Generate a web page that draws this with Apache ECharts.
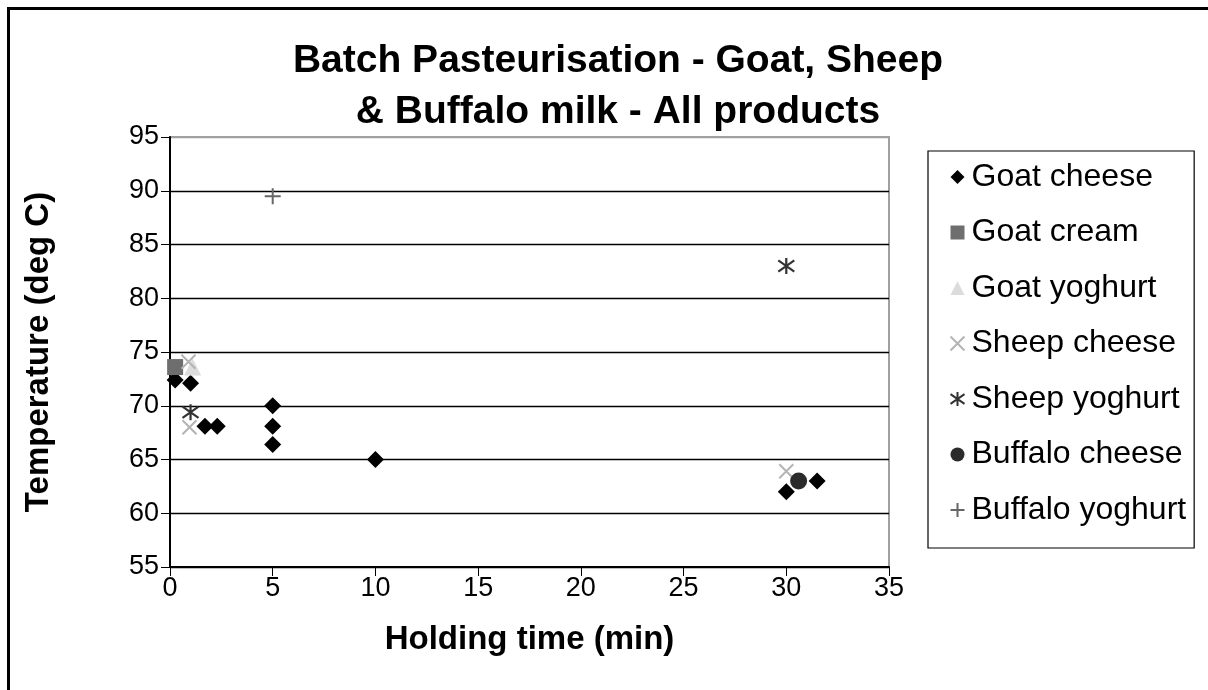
<!DOCTYPE html>
<html>
<head>
<meta charset="utf-8">
<script src="https://cdn.jsdelivr.net/npm/echarts@6/dist/echarts.min.js"></script>
<style>
  html, body { margin: 0; padding: 0; background: #fff; }
  #chart { width: 1208px; height: 690px; }
</style>
</head>
<body>
<div id="chart"></div>
<script>
// values: [holding time (min), temperature (deg C)]
const goatCheese = [[0.25, 72.4], [1, 72.1], [1.7, 68.1], [2.3, 68.1], [5, 70], [5, 68.1], [5, 66.4], [10, 65], [30, 62], [31.5, 63]]
const goatCream = [[0.25, 73.6]]
const goatYoghurt = [[1.1, 73.6]]
const sheepCheese = [[0.9, 74.1], [0.95, 68], [30, 63.9]]
const sheepYoghurt = [[1, 69.4], [30, 83]]
const buffaloCheese = [[30.6, 63]]
const buffaloYoghurt = [[5, 89.5]]

const seriesNames = ['Goat cheese', 'Goat cream', 'Goat yoghurt', 'Sheep cheese', 'Sheep yoghurt', 'Buffalo cheese', 'Buffalo yoghurt']
const xTicks = [0, 5, 10, 15, 20, 25, 30, 35]
const yTicks = [55, 60, 65, 70, 75, 80, 85, 90, 95]

const FONT = 'Liberation Sans, Arial, sans-serif'
const crossPath = 'path://M0,0L10,10M10,0L0,10'
const plusPath = 'path://M5,0L5,10M0,5L10,5'
const starPath = 'path://M5,0L5,10M0,1.5L10,8.5M10,1.5L0,8.5'

const chart = echarts.init(document.getElementById('chart'))

function pointSeries(name, data, symbol, size, style) {
  return { name, type: 'scatter', data, symbol, symbolSize: size, itemStyle: Object.assign({ opacity: 1 }, style), emphasis: { disabled: true } }
}

chart.setOption({
  animation: false,
  backgroundColor: '#fff',
  title: {
    text: 'Batch Pasteurisation - Goat, Sheep\n& Buffalo milk - All products',
    left: 613, top: 31, textAlign: 'center',
    textStyle: { fontFamily: FONT, fontWeight: 'bold', fontSize: 39, lineHeight: 51, color: '#000' }
  },
  graphic: [{
    type: 'rect', shape: { x: 8.5, y: 8.5, width: 1300, height: 800 },
    style: { fill: 'none', stroke: '#000', lineWidth: 3 }, silent: true
  }],
  legend: {
    orient: 'vertical', left: 928, top: 151,
    padding: [10, 8, 22, 20],
    borderColor: '#000', borderWidth: 1.2,
    itemWidth: 14, itemHeight: 14, itemGap: 23.5,
    textStyle: { fontFamily: FONT, fontSize: 32, color: '#000', padding: [0, 0, 0, 2] },
    data: seriesNames
  },
  grid: { left: 170, right: 319, top: 137, bottom: 123, show: true, borderColor: '#a0a0a0', borderWidth: 2 },
  xAxis: {
    type: 'value', min: xTicks[0], max: xTicks[xTicks.length - 1], interval: 5,
    name: 'Holding time (min)', nameLocation: 'middle', nameGap: 56,
    nameTextStyle: { fontFamily: FONT, fontWeight: 'bold', fontSize: 33, color: '#000' },
    axisLine: { lineStyle: { color: '#000', width: 2 } },
    axisTick: { inside: false, length: 9, lineStyle: { color: '#000' } },
    axisLabel: { fontFamily: FONT, fontSize: 27, color: '#000', margin: 8 },
    splitLine: { show: false }
  },
  yAxis: {
    type: 'value', min: yTicks[0], max: yTicks[yTicks.length - 1], interval: 5,
    name: 'Temperature (deg C)', nameLocation: 'middle', nameGap: 115,
    nameTextStyle: { fontFamily: FONT, fontWeight: 'bold', fontSize: 33, color: '#000' },
    axisLine: { lineStyle: { color: '#000', width: 2 } },
    axisTick: { inside: false, length: 9, lineStyle: { color: '#000' } },
    axisLabel: { fontFamily: FONT, fontSize: 27, color: '#000', margin: 11 },
    splitLine: { show: true, lineStyle: { color: ['#000', '#000', '#000', '#000', '#000', '#000', '#000', '#000', '#a0a0a0'], width: 1.3 } }
  },
  series: [
    pointSeries('Goat cheese', goatCheese, 'diamond', 17, { color: '#000' }),
    pointSeries('Goat cream', goatCream, 'rect', 16, { color: '#6e6e6e' }),
    pointSeries('Goat yoghurt', goatYoghurt, 'triangle', 17, { color: '#dcdcdc' }),
    pointSeries('Sheep cheese', sheepCheese, crossPath, 14, { color: 'none', borderColor: '#b4b4b4', borderWidth: 2 }),
    pointSeries('Sheep yoghurt', sheepYoghurt, starPath, 16, { color: 'none', borderColor: '#333', borderWidth: 2.2 }),
    pointSeries('Buffalo cheese', buffaloCheese, 'circle', 17, { color: '#2b2b2b' }),
    pointSeries('Buffalo yoghurt', buffaloYoghurt, plusPath, 16, { color: 'none', borderColor: '#666', borderWidth: 2 })
  ]
})
</script>
</body>
</html>
